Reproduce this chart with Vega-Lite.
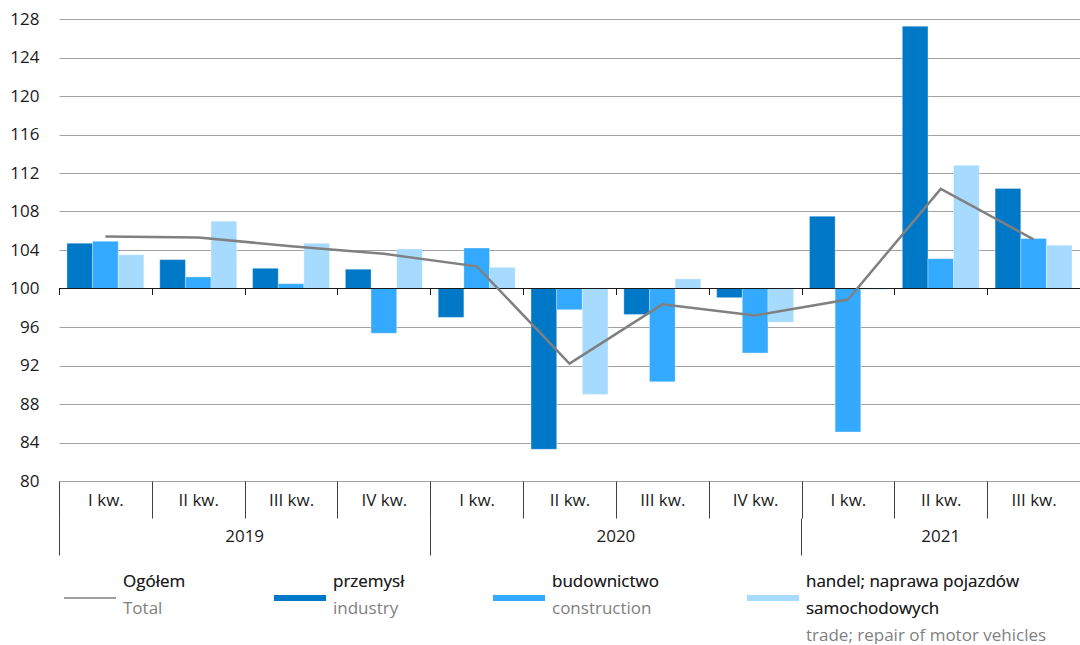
{
  "$schema": "https://vega.github.io/schema/vega-lite/v6.json",
  "width": 1021,
  "height": 462,
  "padding": {"left": 9, "top": 10, "right": 0, "bottom": 0},
  "autosize": {"type": "pad"},
  "config": {
    "font": "Open Sans",
    "view": {"stroke": null},
    "axis": {"labelFont": "Open Sans", "labelFontSize": 17, "labelColor": "#1a1a1a"},
    "style": {"guide-label": {"lineHeight": 27}}
  },
  "data": {
    "values": [
      {"q": "2019|I kw.", "series": "Ogółem", "en": "Total", "v": 105.4},
      {"q": "2019|II kw.", "series": "Ogółem", "en": "Total", "v": 105.3},
      {"q": "2019|III kw.", "series": "Ogółem", "en": "Total", "v": 104.4},
      {"q": "2019|IV kw.", "series": "Ogółem", "en": "Total", "v": 103.6},
      {"q": "2020|I kw.", "series": "Ogółem", "en": "Total", "v": 102.3},
      {"q": "2020|II kw.", "series": "Ogółem", "en": "Total", "v": 92.2},
      {"q": "2020|III kw.", "series": "Ogółem", "en": "Total", "v": 98.35},
      {"q": "2020|IV kw.", "series": "Ogółem", "en": "Total", "v": 97.2},
      {"q": "2021|I kw.", "series": "Ogółem", "en": "Total", "v": 98.85},
      {"q": "2021|II kw.", "series": "Ogółem", "en": "Total", "v": 110.35},
      {"q": "2021|III kw.", "series": "Ogółem", "en": "Total", "v": 105.1},
      {"q": "2019|I kw.", "series": "przemysł", "en": "industry", "v": 104.7},
      {"q": "2019|II kw.", "series": "przemysł", "en": "industry", "v": 103.0},
      {"q": "2019|III kw.", "series": "przemysł", "en": "industry", "v": 102.1},
      {"q": "2019|IV kw.", "series": "przemysł", "en": "industry", "v": 102.0},
      {"q": "2020|I kw.", "series": "przemysł", "en": "industry", "v": 97.0},
      {"q": "2020|II kw.", "series": "przemysł", "en": "industry", "v": 83.3},
      {"q": "2020|III kw.", "series": "przemysł", "en": "industry", "v": 97.3},
      {"q": "2020|IV kw.", "series": "przemysł", "en": "industry", "v": 99.05},
      {"q": "2021|I kw.", "series": "przemysł", "en": "industry", "v": 107.5},
      {"q": "2021|II kw.", "series": "przemysł", "en": "industry", "v": 127.25},
      {"q": "2021|III kw.", "series": "przemysł", "en": "industry", "v": 110.4},
      {"q": "2019|I kw.", "series": "budownictwo", "en": "construction", "v": 104.9},
      {"q": "2019|II kw.", "series": "budownictwo", "en": "construction", "v": 101.2},
      {"q": "2019|III kw.", "series": "budownictwo", "en": "construction", "v": 100.5},
      {"q": "2019|IV kw.", "series": "budownictwo", "en": "construction", "v": 95.35},
      {"q": "2020|I kw.", "series": "budownictwo", "en": "construction", "v": 104.2},
      {"q": "2020|II kw.", "series": "budownictwo", "en": "construction", "v": 97.8},
      {"q": "2020|III kw.", "series": "budownictwo", "en": "construction", "v": 90.3},
      {"q": "2020|IV kw.", "series": "budownictwo", "en": "construction", "v": 93.3},
      {"q": "2021|I kw.", "series": "budownictwo", "en": "construction", "v": 85.1},
      {"q": "2021|II kw.", "series": "budownictwo", "en": "construction", "v": 103.1},
      {"q": "2021|III kw.", "series": "budownictwo", "en": "construction", "v": 105.2},
      {"q": "2019|I kw.", "series": "handel; naprawa pojazdów samochodowych", "en": "trade; repair of motor vehicles", "v": 103.5},
      {"q": "2019|II kw.", "series": "handel; naprawa pojazdów samochodowych", "en": "trade; repair of motor vehicles", "v": 107.0},
      {"q": "2019|III kw.", "series": "handel; naprawa pojazdów samochodowych", "en": "trade; repair of motor vehicles", "v": 104.7},
      {"q": "2019|IV kw.", "series": "handel; naprawa pojazdów samochodowych", "en": "trade; repair of motor vehicles", "v": 104.1},
      {"q": "2020|I kw.", "series": "handel; naprawa pojazdów samochodowych", "en": "trade; repair of motor vehicles", "v": 102.2},
      {"q": "2020|II kw.", "series": "handel; naprawa pojazdów samochodowych", "en": "trade; repair of motor vehicles", "v": 89.0},
      {"q": "2020|III kw.", "series": "handel; naprawa pojazdów samochodowych", "en": "trade; repair of motor vehicles", "v": 101.0},
      {"q": "2020|IV kw.", "series": "handel; naprawa pojazdów samochodowych", "en": "trade; repair of motor vehicles", "v": 96.5},
      {"q": "2021|I kw.", "series": "handel; naprawa pojazdów samochodowych", "en": "trade; repair of motor vehicles", "v": 99.9},
      {"q": "2021|II kw.", "series": "handel; naprawa pojazdów samochodowych", "en": "trade; repair of motor vehicles", "v": 112.8},
      {"q": "2021|III kw.", "series": "handel; naprawa pojazdów samochodowych", "en": "trade; repair of motor vehicles", "v": 104.5}
    ]
  },
  "resolve": {"axis": {"x": "independent"}},
  "layer": [
    {
      "transform": [{"filter": "datum.series != 'Ogółem'"}],
      "mark": {"type": "bar", "stroke": "#ffffff", "strokeWidth": 0.5, "strokeOpacity": 0.6},
      "encoding": {
        "x": {
          "field": "q", "type": "nominal",
          "scale": {"domain": ["2019|I kw.", "2019|II kw.", "2019|III kw.", "2019|IV kw.", "2020|I kw.", "2020|II kw.", "2020|III kw.", "2020|IV kw.", "2021|I kw.", "2021|II kw.", "2021|III kw."], "paddingInner": 0, "paddingOuter": 0},
          "axis": {"orient": "bottom", "title": null, "domain": false, "grid": false, "tickBand": "extent", "tickSize": 37, "tickColor": "#404040", "tickWidth": 1, "labelPadding": -26, "labelAngle": 0, "labelOverlap": false, "labelExpr": "split(datum.value, '|')[1]"}
        },
        "xOffset": {
          "field": "series", "type": "nominal",
          "scale": {"domain": ["przemysł", "budownictwo", "handel; naprawa pojazdów samochodowych"], "paddingInner": 0, "paddingOuter": 0.31}
        },
        "y": {
          "field": "v", "type": "quantitative",
          "scale": {"domain": [80, 128], "nice": false, "zero": false},
          "axis": {"title": null, "domain": false, "ticks": false, "values": [80, 84, 88, 92, 96, 100, 104, 108, 112, 116, 120, 124, 128], "labelPadding": 20, "gridColor": "#a2a2a2", "gridWidth": 1}
        },
        "y2": {"datum": 100},
        "color": {
          "field": "series", "type": "nominal",
          "scale": {"domain": ["Ogółem", "przemysł", "budownictwo", "handel; naprawa pojazdów samochodowych"], "range": ["#808080", "#0078c8", "#33aaff", "#a6daff"]},
          "legend": {
            "title": null, "orient": "none", "legendX": 5, "legendY": 553, "direction": "horizontal", "columns": 4, "columnPadding": 88, "padding": 0,
            "symbolSize": 2704, "symbolStrokeWidth": 0, "labelOffset": 7, "labelFont": "Open Sans", "labelFontSize": 17, "labelColor": "#1a1a1a", "labelLimit": 400, "labelBaseline": "top", "zindex": 2,
            "labelExpr": "datum.label == 'handel; naprawa pojazdów samochodowych' ? ['handel; naprawa pojazdów', 'samochodowych', ' '] : [datum.label, ' ', ' ']",
            "encode": {
              "symbols": {"update": {"shape": {"signal": "datum.value == 'Ogółem' ? 'M-1,-0.03H1V0.03H-1Z' : 'M-1,-0.115H1V0.115H-1Z'"}, "fill": {"scale": "color", "field": "value"}, "stroke": {"value": "transparent"}, "opacity": {"value": 1}}},
              "labels": {"update": {"dy": {"value": -24}, "lineHeight": {"value": 27}}}
            }
          }
        }
      }
    },
    {
      "mark": {"type": "rule", "color": "#1a1a1a", "strokeWidth": 1},
      "encoding": {
        "y": {
          "datum": 100, "type": "quantitative",
          "axis": {"title": null, "domain": false, "ticks": false, "values": [80, 84, 88, 92, 96, 100, 104, 108, 112, 116, 120, 124, 128], "labelPadding": 20, "gridColor": "#a2a2a2", "gridWidth": 1}
        }
      }
    },
    {
      "transform": [{"filter": "datum.series == 'Ogółem'"}],
      "mark": {"type": "line", "strokeWidth": 2.5},
      "encoding": {
        "x": {
          "field": "q", "type": "nominal",
          "scale": {"domain": ["2019|I kw.", "2019|II kw.", "2019|III kw.", "2019|IV kw.", "2020|I kw.", "2020|II kw.", "2020|III kw.", "2020|IV kw.", "2021|I kw.", "2021|II kw.", "2021|III kw."]},
          "axis": {"orient": "bottom", "title": null, "domain": false, "grid": false, "labels": false, "values": ["2019|I kw.", "2020|I kw.", "2021|I kw."], "bandPosition": 0, "tickSize": 37, "offset": 37, "tickColor": "#404040", "tickWidth": 1}
        },
        "y": {
          "field": "v", "type": "quantitative",
          "axis": {"title": null, "domain": false, "ticks": false, "values": [80, 84, 88, 92, 96, 100, 104, 108, 112, 116, 120, 124, 128], "labelPadding": 20, "gridColor": "#a2a2a2", "gridWidth": 1}
        },
        "color": {
          "field": "series", "type": "nominal",
          "scale": {"domain": ["Ogółem", "przemysł", "budownictwo", "handel; naprawa pojazdów samochodowych"], "range": ["#808080", "#0078c8", "#33aaff", "#a6daff"]},
          "legend": {
            "title": null, "orient": "none", "legendX": 5, "legendY": 553, "direction": "horizontal", "columns": 4, "columnPadding": 88, "padding": 0,
            "symbolSize": 2704, "symbolStrokeWidth": 0, "labelOffset": 7, "labelFont": "Open Sans", "labelFontSize": 17, "labelColor": "#1a1a1a", "labelLimit": 400, "labelBaseline": "top", "zindex": 2,
            "labelExpr": "datum.label == 'handel; naprawa pojazdów samochodowych' ? ['handel; naprawa pojazdów', 'samochodowych', ' '] : [datum.label, ' ', ' ']",
            "encode": {
              "symbols": {"update": {"shape": {"signal": "datum.value == 'Ogółem' ? 'M-1,-0.03H1V0.03H-1Z' : 'M-1,-0.115H1V0.115H-1Z'"}, "fill": {"scale": "color", "field": "value"}, "stroke": {"value": "transparent"}, "opacity": {"value": 1}}},
              "labels": {"update": {"dy": {"value": -24}, "lineHeight": {"value": 27}}}
            }
          }
        }
      }
    },
    {
      "mark": {"type": "point", "opacity": 0},
      "encoding": {
        "x": {
          "field": "q", "type": "nominal",
          "scale": {"domain": ["2019|I kw.", "2019|II kw.", "2019|III kw.", "2019|IV kw.", "2020|I kw.", "2020|II kw.", "2020|III kw.", "2020|IV kw.", "2021|I kw.", "2021|II kw.", "2021|III kw."]},
          "axis": {"orient": "bottom", "title": null, "domain": false, "grid": false, "ticks": false, "values": ["2019|II kw.", "2020|II kw.", "2021|II kw."], "labelExpr": "split(datum.value, '|')[0]", "labelOffset": {"condition": {"test": "indexof(datum.value, '2021') == 0", "value": 0}, "value": 46.4}, "labelPadding": 10, "offset": 37, "labelAngle": 0, "labelOverlap": false}
        },
        "y": {
          "field": "v", "type": "quantitative",
          "axis": {"title": null, "domain": false, "ticks": false, "values": [80, 84, 88, 92, 96, 100, 104, 108, 112, 116, 120, 124, 128], "labelPadding": 20, "gridColor": "#a2a2a2", "gridWidth": 1}
        },
        "shape": {
          "field": "en", "type": "nominal",
          "scale": {"domain": ["Total", "industry", "construction", "trade; repair of motor vehicles"]},
          "legend": {
            "title": null, "orient": "none", "legendX": 5, "legendY": 529, "direction": "horizontal", "columns": 4, "columnPadding": 88, "padding": 0,
            "symbolSize": 2704, "symbolStrokeWidth": 0, "symbolOpacity": 0, "labelOffset": 7, "labelFont": "Open Sans", "labelFontSize": 17, "labelColor": "#7f7f7f", "labelLimit": 400, "labelBaseline": "top", "zindex": 1,
            "labelExpr": "datum.label == 'Total' ? ['Ogółem', 'Total', ' '] : datum.label == 'industry' ? ['przemysł', 'industry', ' '] : datum.label == 'construction' ? ['budownictwo', 'construction', ' '] : ['handel; naprawa pojazdów', 'samochodowych', 'trade; repair of motor vehicles']",
            "encode": {
              "symbols": {"update": {"shape": {"signal": "datum.value == 'Total' ? 'M-1,-0.03H1V0.03H-1Z' : 'M-1,-0.115H1V0.115H-1Z'"}, "fill": {"value": "transparent"}, "stroke": {"value": "transparent"}, "opacity": {"value": 0}}},
              "labels": {"update": {"lineHeight": {"value": 27}}}
            }
          }
        }
      }
    },
    {
      "mark": {"type": "point", "opacity": 0},
      "encoding": {
        "x": {
          "field": "q", "type": "nominal",
          "scale": {"domain": ["2019|I kw.", "2019|II kw.", "2019|III kw.", "2019|IV kw.", "2020|I kw.", "2020|II kw.", "2020|III kw.", "2020|IV kw.", "2021|I kw.", "2021|II kw.", "2021|III kw."]},
          "axis": {"orient": "bottom", "title": null, "domain": false, "grid": false, "labels": false, "tickBand": "extent", "tickSize": 6, "offset": -192.5, "tickColor": "#1a1a1a", "tickWidth": 1}
        },
        "y": {
          "field": "v", "type": "quantitative",
          "axis": {"title": null, "domain": false, "ticks": false, "values": [80, 84, 88, 92, 96, 100, 104, 108, 112, 116, 120, 124, 128], "labelPadding": 20, "gridColor": "#a2a2a2", "gridWidth": 1}
        }
      }
    }
  ]
}
